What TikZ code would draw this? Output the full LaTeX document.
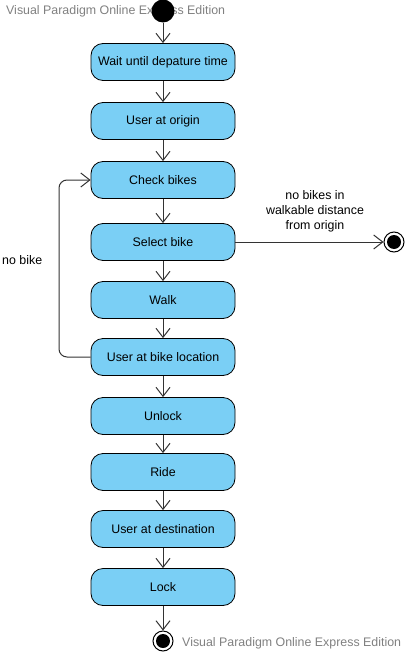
\documentclass[tikz,border=0pt]{standalone}
\usepackage{fontspec}
\setmainfont{Liberation Sans}
\usetikzlibrary{arrows.meta}
\definecolor{actfill}{HTML}{7ACFF5}
\definecolor{wmgray}{HTML}{808080}
\definecolor{linec}{HTML}{333333}
\begin{document}
\begin{tikzpicture}[x=1pt,y=-1pt,
  act/.style={draw=black, fill=actfill, rounded corners=12pt, minimum width=144pt, minimum height=37pt, inner sep=0pt, font=\fontsize{12.4pt}{14pt}\selectfont, line width=0.8pt},
  flow/.style={draw=linec, line width=1pt, -{Straight Barb[length=9pt,width=14pt,line width=1pt]}},
  wm/.style={text=wmgray, font=\fontsize{12.4pt}{14pt}\selectfont, inner sep=0pt, anchor=west},
  lbl/.style={font=\fontsize{12.4pt}{15pt}\selectfont, align=center, inner sep=0pt}]
\useasboundingbox (0,0) rectangle (406,653);
\node[wm] (wm1) at (6,11) {Visual Paradigm Online Express Edition};
\node[wm] (wm2) at (182,643) {Visual Paradigm Online Express Edition};
\node[circle, fill=black, minimum size=23pt, inner sep=0pt] (start) at (163,11) {};
\node[act] (a1) at (163,62) {Wait until depature time};
\node[act] (a2) at (163,121) {User at origin};
\node[act] (a3) at (163,180) {Check bikes};
\node[act] (a4) at (163,242) {Select bike};
\node[act] (a5) at (163,300) {Walk};
\node[act] (a6) at (163,357) {User at bike location};
\node[act] (a7) at (163,416) {Unlock};
\node[act] (a8) at (163,472) {Ride};
\node[act] (a9) at (163,529) {User at destination};
\node[act] (a10) at (163,587) {Lock};
\node[circle, draw=black, line width=1pt, fill=white, minimum size=20pt, inner sep=0pt] (end1) at (163,641) {};
\fill[black] (end1.center) circle (7pt);
\node[circle, draw=black, line width=1pt, fill=white, minimum size=20pt, inner sep=0pt] (end2) at (394,242) {};
\fill[black] (end2.center) circle (7pt);
\draw[flow] (start) -- (a1);
\draw[flow] (a1) -- (a2);
\draw[flow] (a2) -- (a3);
\draw[flow] (a3) -- (a4);
\draw[flow] (a4) -- (a5);
\draw[flow] (a5) -- (a6);
\draw[flow] (a6) -- (a7);
\draw[flow] (a7) -- (a8);
\draw[flow] (a8) -- (a9);
\draw[flow] (a9) -- (a10);
\draw[flow] (a10) -- (end1);
\draw[flow] (a4) -- (end2);
\coordinate (lb) at (59,357);
\coordinate (lt) at (59,180);
\draw[flow, rounded corners=8pt] (a6.west) -- (lb) -- (lt) -- (a3.west);
\node[lbl] (l1) at (315,211) {no bikes in\\walkable distance\\from origin};
\node[lbl, anchor=west] (l2) at (2,260) {no bike};
\end{tikzpicture}
\end{document}
